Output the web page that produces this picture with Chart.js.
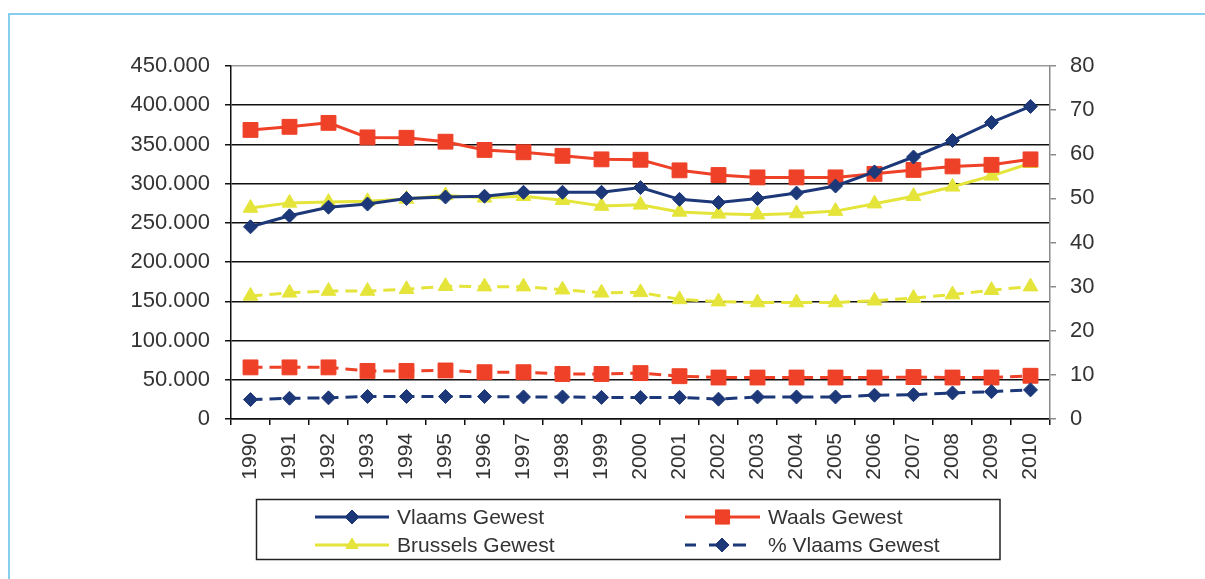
<!DOCTYPE html>
<html><head><meta charset="utf-8">
<script src="https://cdn.jsdelivr.net/npm/chart.js@4"></script>
<style>
html,body{margin:0;padding:0;background:#fff;overflow:hidden;}
#wrap{position:relative;width:1205px;height:579px;overflow:hidden;}
#frame{position:absolute;left:8px;top:13px;width:1300px;height:700px;border-top:2px solid #86cdee;border-left:2px solid #86cdee;}
canvas{position:absolute;left:0;top:0;}
</style></head><body>
<div id="wrap"><div id="frame"></div><canvas id="c" width="1205" height="579"></canvas></div>
<script>
const years = ['1990','1991','1992','1993','1994','1995','1996','1997','1998','1999','2000','2001','2002','2003','2004','2005','2006','2007','2008','2009','2010'];
const vlaams   = [245000,259000,270000,274000,281000,283000,284000,289000,289000,289000,295000,280000,276000,281000,288000,297000,315000,334000,355000,378000,398500];
const waals    = [368500,372500,377500,359000,358500,353500,343000,340000,335500,331000,330500,317000,311000,308000,308000,308000,312500,317500,322000,324000,331000];
const brussels = [269000,275500,276500,277500,280500,285000,282000,284000,279000,271500,273000,264000,261500,260500,262000,265000,274500,284000,296000,310000,326000];
const pctVlaams   = [4.4,4.7,4.8,5.1,5.1,5.1,5.1,5.0,5.0,4.9,4.9,4.9,4.5,5.0,5.0,5.0,5.4,5.5,5.9,6.2,6.6];
const pctWaals    = [11.7,11.7,11.7,10.9,10.9,11.0,10.6,10.6,10.2,10.2,10.4,9.7,9.4,9.4,9.4,9.4,9.4,9.5,9.4,9.4,9.8];
const pctBrussels = [27.9,28.6,29.0,29.0,29.4,30.1,30.0,30.0,29.3,28.6,28.7,27.1,26.6,26.4,26.4,26.4,26.8,27.4,28.2,29.2,30.0];
const leftTicks  = [0,50000,100000,150000,200000,250000,300000,350000,400000,450000];
const rightTicks = [0,10,20,30,40,50,60,70,80];
const seriesNames = ['Vlaams Gewest','Waals Gewest','Brussels Gewest','% Vlaams Gewest','% Waals Gewest','% Brussels Gewest'];

const NAVY='#1d3878', RED='#ee4127', YEL='#e4e43a';
const FONT="'Liberation Sans', Arial, sans-serif";

function fmt(v){ return String(v).replace(/\B(?=(\d{3})+(?!\d))/g,'.'); }

function mk(label,data,color,style,radius,axis,dashed){
  return {label,data,yAxisID:axis,borderColor:color,backgroundColor:color,borderWidth:3,
    borderDash:dashed?[12,7]:[],pointStyle:style,pointRadius:radius,pointBorderWidth:1,
    pointBorderColor:color,pointBackgroundColor:color,tension:0,fill:false};
}

const legendItems=[{ds:0,col:0,row:0},{ds:1,col:1,row:0},{ds:2,col:0,row:1},{ds:3,col:1,row:1}];

function marker(ctx,style,x,y,r,color){
  ctx.save();ctx.fillStyle=color;ctx.strokeStyle=color;ctx.lineWidth=1;ctx.setLineDash([]);
  ctx.beginPath();
  if(style==='rectRot'){ctx.moveTo(x-r,y);ctx.lineTo(x,y-r);ctx.lineTo(x+r,y);ctx.lineTo(x,y+r);}
  else if(style==='rect'){const s=r*Math.SQRT1_2;ctx.rect(x-s,y-s,2*s,2*s);}
  else if(style==='triangle'){for(let i=0;i<3;i++){const a=-Math.PI/2+i*2*Math.PI/3;const px=x+r*Math.cos(a),py=y+r*Math.sin(a);i?ctx.lineTo(px,py):ctx.moveTo(px,py);}}
  ctx.closePath();ctx.fill();ctx.stroke();ctx.restore();
}

const legendPlugin={id:'boxLegend',afterDraw(chart){
  const ctx=chart.ctx;
  ctx.save();
  ctx.strokeStyle='#222';ctx.lineWidth=1.5;ctx.setLineDash([]);
  ctx.strokeRect(256.5,499.5,743.5,60);
  const rows=[517,545], lx0=[315,685], lx1=[389,760], tx=[397,768];
  legendItems.forEach(it=>{
    const ds=chart.data.datasets[it.ds];
    const y=rows[it.row], x0=lx0[it.col], x1=lx1[it.col];
    const dashed=ds.borderDash && ds.borderDash.length;
    ctx.save();
    ctx.strokeStyle=ds.borderColor;ctx.lineWidth=3;ctx.setLineDash([]);
    ctx.beginPath();
    let cx=(x0+x1)/2;
    if(dashed){
      ctx.moveTo(x0,y);ctx.lineTo(x0+11,y);
      ctx.moveTo(x0+24,y);ctx.lineTo(x0+35,y);
      ctx.moveTo(x0+48,y);ctx.lineTo(x0+61,y);
      cx=x0+37;
    } else {ctx.moveTo(x0,y);ctx.lineTo(x1,y);}
    ctx.stroke();
    ctx.restore();
    marker(ctx,ds.pointStyle,cx,y,ds.pointStyle==='rect'?10:7,ds.borderColor);
    ctx.fillStyle='#333';ctx.font='21px '+FONT;ctx.textBaseline='middle';ctx.textAlign='left';
    ctx.fillText(ds.label,tx[it.col],y+1);
  });
  ctx.restore();
}};

new Chart(document.getElementById('c'),{
  type:'line',
  data:{labels:years,datasets:[
    mk(seriesNames[0],vlaams,NAVY,'rectRot',7,'y',false),
    mk(seriesNames[1],waals,RED,'rect',10.5,'y',false),
    mk(seriesNames[2],brussels,YEL,'triangle',8.5,'y',false),
    mk(seriesNames[3],pctVlaams,NAVY,'rectRot',7,'y1',true),
    mk(seriesNames[4],pctWaals,RED,'rect',10.5,'y1',true),
    mk(seriesNames[5],pctBrussels,YEL,'triangle',8.5,'y1',true)
  ]},
  options:{
    responsive:false,animation:false,devicePixelRatio:1,
    layout:{padding:{top:66,left:0,right:0,bottom:0}},
    plugins:{legend:{display:false},tooltip:{enabled:false}},
    scales:{
      x:{offset:true,
        grid:{offset:true,drawOnChartArea:false,drawTicks:true,tickLength:6,tickColor:'#111',lineWidth:1.5},
        border:{display:true,color:'#111',width:1.5},
        ticks:{minRotation:90,maxRotation:90,autoSkip:false,padding:8,color:'#333',font:{family:FONT,size:21}},
        afterFit(s){s.height=160;}
      },
      y:{position:'left',min:0,max:450000,
        afterBuildTicks(s){s.ticks=leftTicks.map(v=>({value:v}));},
        grid:{color:c=>c.tick && c.tick.value===450000?'#9a9a9a':'#111',lineWidth:1.5,tickLength:6,tickColor:'#111'},
        border:{display:true,color:'#111',width:1.5},
        ticks:{padding:15,color:'#333',font:{family:FONT,size:22},callback:v=>fmt(v)},
        afterFit(s){s.width=231;}
      },
      y1:{position:'right',min:0,max:80,
        afterBuildTicks(s){s.ticks=rightTicks.map(v=>({value:v}));},
        grid:{drawOnChartArea:false,lineWidth:1.5,tickLength:6,tickColor:'#8a8a8a'},
        border:{display:true,color:'#8a8a8a',width:1.5},
        ticks:{padding:14,color:'#333',font:{family:FONT,size:22}},
        afterFit(s){s.width=155;}
      }
    }
  },
  plugins:[legendPlugin]
});
</script>
</body></html>
